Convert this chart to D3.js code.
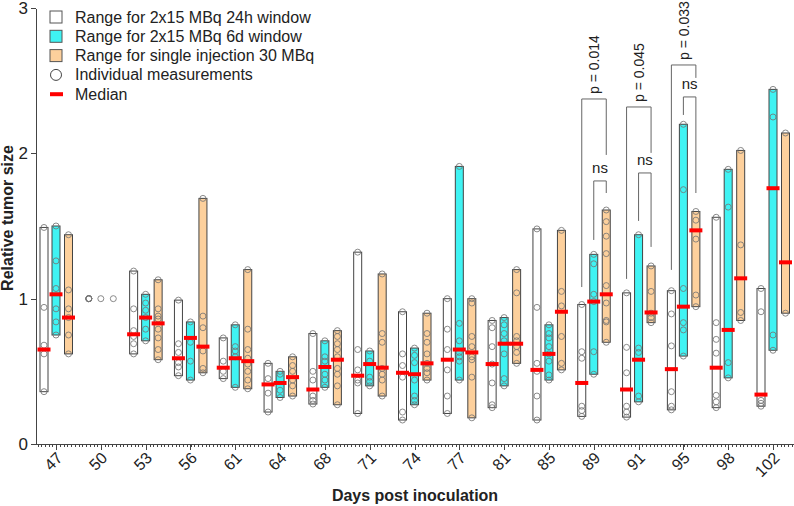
<html>
    <head>
        <style>
            body { margin: 0; background: #fff; }
            text { font-family: 'Liberation Sans', Arial, sans-serif; }
            .axis path, .axis line { fill: none; stroke: #444; shape-rendering: crispEdges; }
            .bar { stroke: #444; stroke-width: 1px; }
            .pt { fill: none; stroke: #777; stroke-width: 1px; stroke-opacity: 0.85; }
            .med { fill: #ff0000; }
            .bracket { fill: none; stroke: #666; stroke-width: 1px; }
        </style>
    </head>
    <body>
        <div id="chart"></div>
        <script src="https://d3js.org/d3.v7.min.js"></script>
        <script>
            const days = ['47', '50', '53', '56', '61', '64', '68', '71', '74', '77', '81', '85', '89', '91', '95', '98', '102'];

            // individual measurements, 2x15 MBq 24h window
            const win24 = [
                [1.49, 0.94, 0.68, 0.62, 0.36],
                [1, 1, 1, 1, 1],
                [1.19, 0.93, 0.78, 0.74, 0.69, 0.62],
                [0.99, 0.69, 0.63, 0.56, 0.53, 0.47],
                [0.73, 0.57, 0.50, 0.45],
                [0.555, 0.45, 0.35, 0.22],
                [0.76, 0.50, 0.44, 0.33, 0.30, 0.275],
                [1.32, 0.65, 0.51, 0.44, 0.42, 0.21],
                [0.91, 0.62, 0.54, 0.46, 0.22, 0.165],
                [1.0, 0.79, 0.65, 0.51, 0.33, 0.21],
                [0.85, 0.80, 0.67, 0.55, 0.42, 0.27, 0.25],
                [1.48, 0.94, 0.555, 0.50, 0.33, 0.165],
                [0.96, 0.635, 0.59, 0.26, 0.23, 0.19],
                [1.04, 0.665, 0.49, 0.26, 0.22, 0.185],
                [1.055, 0.895, 0.675, 0.36, 0.26, 0.235],
                [1.56, 0.835, 0.72, 0.625, 0.335, 0.29, 0.25],
                [1.07, 0.91, 0.30, 0.28, 0.26]
            ];
            const med24 = [0.65, null, 0.755, 0.59, 0.525, 0.41, 0.375, 0.47, 0.49, 0.58, 0.55, 0.51, 0.42, 0.375, 0.515, 0.525, 0.34];

            // 2x15 MBq 6d window
            const win6d = [
                [1.50, 1.26, 1.07, 0.93, 0.84, 0.75],
                [1],
                [1.03, 0.97, 0.92, 0.87, 0.79, 0.71],
                [0.84, 0.70, 0.57, 0.44],
                [0.82, 0.67, 0.64, 0.60, 0.39],
                [0.50, 0.48, 0.37, 0.32],
                [0.71, 0.60, 0.57, 0.48, 0.44, 0.39],
                [0.64, 0.57, 0.46, 0.43, 0.40],
                [0.66, 0.61, 0.56, 0.44, 0.33, 0.30, 0.27],
                [1.91, 0.83, 0.71, 0.63, 0.60, 0.57, 0.44],
                [0.87, 0.82, 0.76, 0.71, 0.62, 0.45, 0.40],
                [0.82, 0.76, 0.73, 0.67, 0.62, 0.57, 0.475, 0.44],
                [1.305, 1.24, 1.03, 0.98, 0.635, 0.48],
                [1.44, 0.66, 0.63, 0.33, 0.29],
                [2.20, 1.75, 1.07, 0.835, 0.785, 0.605],
                [1.89, 1.63, 0.56, 0.455],
                [2.44, 2.25, 0.75, 0.645]
            ];
            const med6d = [1.03, null, 0.87, 0.73, 0.59, 0.42, 0.53, 0.55, 0.48, 0.65, 0.69, 0.62, 0.98, 0.58, 0.945, 0.785, 1.76];

            // single injection 30 MBq
            const single = [
                [1.44, 1.06, 0.93, 0.87, 0.75, 0.62],
                [1],
                [1.13, 0.93, 0.88, 0.86, 0.79, 0.73, 0.65, 0.58],
                [1.69, 0.88, 0.80, 0.64, 0.52, 0.49],
                [1.20, 0.79, 0.65, 0.59, 0.55, 0.50, 0.44, 0.38],
                [0.60, 0.54, 0.50, 0.44, 0.40, 0.33],
                [0.78, 0.74, 0.69, 0.65, 0.60, 0.52, 0.48, 0.40, 0.27],
                [1.17, 0.76, 0.70, 0.52, 0.48, 0.44, 0.33],
                [0.90, 0.76, 0.70, 0.62, 0.555, 0.52, 0.49, 0.44],
                [1.0, 0.97, 0.74, 0.67, 0.60, 0.58, 0.46, 0.18],
                [1.20, 1.04, 0.74, 0.71, 0.67, 0.63, 0.555],
                [1.47, 1.05, 0.95, 0.74, 0.555, 0.51],
                [1.61, 1.53, 1.43, 1.31, 1.09, 0.97, 0.85, 0.84, 0.70],
                [1.225, 1.05, 0.90, 0.87, 0.835],
                [1.60, 1.54, 1.41, 1.025, 0.945],
                [2.02, 1.37, 0.905, 0.85],
                [2.14, 0.90]
            ];
            const medSingle = [0.87, null, 0.83, 0.67, 0.57, 0.46, 0.58, 0.525, 0.555, 0.63, 0.69, 0.91, 1.03, 0.905, 1.47, 1.14, 1.25];

            const seriesNames = ['Range for 2x15 MBq 24h window', 'Range for 2x15 MBq 6d window', 'Range for single injection 30 MBq'];
            const seriesColors = ['#ffffff', '#3ff3f3', '#fdd09c'];
            const seriesOffset = [-12, 0, 12.5];

            // significance brackets (heights in relative tumor size units)
            const brackets = [
                { day: '89', a: 0, b: 2, y1: 1.08, top: 2.374, y2: 1.989, label: 'p = 0.014', vertical: true },
                { day: '89', a: 1, b: 2, y1: 1.404, top: 1.81, y2: 1.727, label: 'ns' },
                { day: '91', a: 0, b: 2, y1: 1.136, top: 2.319, y2: 2.003, label: 'p = 0.045', vertical: true },
                { day: '91', a: 1, b: 2, y1: 1.535, top: 1.865, y2: 1.356, label: 'ns' },
                { day: '95', a: 0, b: 2, y1: 1.198, top: 2.608, y2: 2.519, label: 'p = 0.033', vertical: true },
                { day: '95', a: 1, b: 2, y1: 2.264, top: 2.388, y2: 1.727, label: 'ns' }
            ];

            const width = 794, height = 506;
            const x0 = 36, yBase = 444;

            const svg = d3.select('#chart')
                .append('svg')
                .attr('width', width)
                .attr('height', height);

            const x = d3.scalePoint()
                .domain(days)
                .range([56, 773]);

            const y = d3.scaleLinear()
                .domain([0, 3])
                .range([yBase, 8]);

            // x axis with minor ticks
            const xAxis = svg.append('g')
                .attr('class', 'x axis')
                .attr('transform', `translate(0,${yBase})`);
            xAxis.append('line').attr('x1', x0 - 1).attr('x2', width).attr('y1', 0).attr('y2', 0);
            const step = x.step() / 12;
            xAxis.selectAll('.minor')
                .data(d3.range(x0 + 2, width, step))
                .join('line')
                .attr('class', 'minor')
                .attr('x1', d => d).attr('x2', d => d)
                .attr('y1', 0).attr('y2', 2.5);
            xAxis.call(d3.axisBottom(x).tickSize(6).tickSizeOuter(0))
                .call(g => g.select('.domain').remove());
            xAxis.selectAll('.tick text')
                .attr('font-size', '16px')
                .attr('fill', '#222')
                .attr('text-anchor', 'end')
                .attr('dy', null)
                .attr('y', 0)
                .attr('x', 0)
                .attr('transform', 'translate(7,15) rotate(-45)');

            // y axis
            svg.append('g')
                .attr('class', 'y axis')
                .attr('transform', `translate(${x0},0)`)
                .call(d3.axisLeft(y).tickValues([0, 1, 2, 3]).tickFormat(d3.format('d')).tickSize(5).tickSizeOuter(0))
                .selectAll('text')
                .attr('font-size', '17px')
                .attr('fill', '#222');

            // axis titles
            svg.append('text')
                .attr('transform', 'translate(13,218) rotate(-90)')
                .attr('text-anchor', 'middle')
                .attr('font-weight', 'bold')
                .attr('font-size', '16px')
                .attr('fill', '#222')
                .text('Relative tumor size');

            svg.append('text')
                .attr('x', 415)
                .attr('y', 501)
                .attr('text-anchor', 'middle')
                .attr('font-weight', 'bold')
                .attr('font-size', '16px')
                .attr('fill', '#222')
                .text('Days post inoculation');

            const allSeries = [
                { pts: win24, med: med24 },
                { pts: win6d, med: med6d },
                { pts: single, med: medSingle }
            ];

            allSeries.forEach((s, si) => {
                const g = svg.append('g').attr('class', 'series-' + si);
                const rows = days.map((d, i) => ({
                    day: d,
                    pts: s.pts[i],
                    med: s.med[i],
                    lo: d3.min(s.pts[i]),
                    hi: d3.max(s.pts[i])
                }));

                // range bar
                g.selectAll('.bar')
                    .data(rows.filter(r => r.hi > r.lo))
                    .join('rect')
                    .attr('class', 'bar')
                    .attr('x', r => x(r.day) + seriesOffset[si] - 4)
                    .attr('width', 8)
                    .attr('y', r => y(r.hi))
                    .attr('height', r => y(r.lo) - y(r.hi))
                    .attr('fill', seriesColors[si]);

                // individual points
                rows.forEach(r => {
                    g.selectAll(null)
                        .data(r.pts)
                        .join('circle')
                        .attr('class', 'pt')
                        .attr('cx', x(r.day) + seriesOffset[si])
                        .attr('cy', v => y(v))
                        .attr('r', 3);
                });

                // median
                g.selectAll('.med')
                    .data(rows.filter(r => r.med != null))
                    .join('rect')
                    .attr('class', 'med')
                    .attr('x', r => x(r.day) + seriesOffset[si] - 6.5)
                    .attr('width', 13)
                    .attr('y', r => y(r.med) - 2)
                    .attr('height', 4);
            });

            // brackets
            const bg = svg.append('g');
            brackets.forEach(b => {
                const xa = x(b.day) + seriesOffset[b.a];
                const xb = x(b.day) + seriesOffset[b.b];
                bg.append('path')
                    .attr('class', 'bracket')
                    .attr('d', `M${xa},${y(b.y1)}V${y(b.top)}H${xb}V${y(b.y2)}`);
                const mid = (xa + xb) / 2;
                if (b.vertical) {
                    bg.append('text')
                        .attr('transform', `translate(${mid + 5},${y(b.top) - 5}) rotate(-90)`)
                        .attr('font-size', '14px')
                        .attr('fill', '#222')
                        .text(b.label);
                } else {
                    bg.append('text')
                        .attr('x', mid)
                        .attr('y', y(b.top) - 8)
                        .attr('text-anchor', 'middle')
                        .attr('font-size', '15px')
                        .attr('fill', '#222')
                        .text(b.label);
                }
            });

            // legend
            const legend = svg.append('g').attr('transform', 'translate(50,0)');
            const rowY = d => 17 + d * 19.3;
            seriesNames.forEach((name, i) => {
                legend.append('rect')
                    .attr('x', 0).attr('y', rowY(i) - 6)
                    .attr('width', 12).attr('height', 12)
                    .attr('fill', seriesColors[i])
                    .attr('stroke', '#555');
                legend.append('text')
                    .attr('x', 25).attr('y', rowY(i) + 5.5)
                    .attr('font-size', '16px')
                    .attr('fill', '#222')
                    .text(name);
            });
            legend.append('circle')
                .attr('cx', 6).attr('cy', rowY(3)).attr('r', 5.5)
                .attr('fill', 'none').attr('stroke', '#444');
            legend.append('text')
                .attr('x', 25).attr('y', rowY(3) + 5.5)
                .attr('font-size', '16px').attr('fill', '#222')
                .text('Individual measurements');
            legend.append('rect')
                .attr('x', 0).attr('y', rowY(4) - 2)
                .attr('width', 13).attr('height', 4)
                .attr('fill', '#ff0000');
            legend.append('text')
                .attr('x', 25).attr('y', rowY(4) + 5.5)
                .attr('font-size', '16px').attr('fill', '#222')
                .text('Median');
        </script>
    </body>
</html>
